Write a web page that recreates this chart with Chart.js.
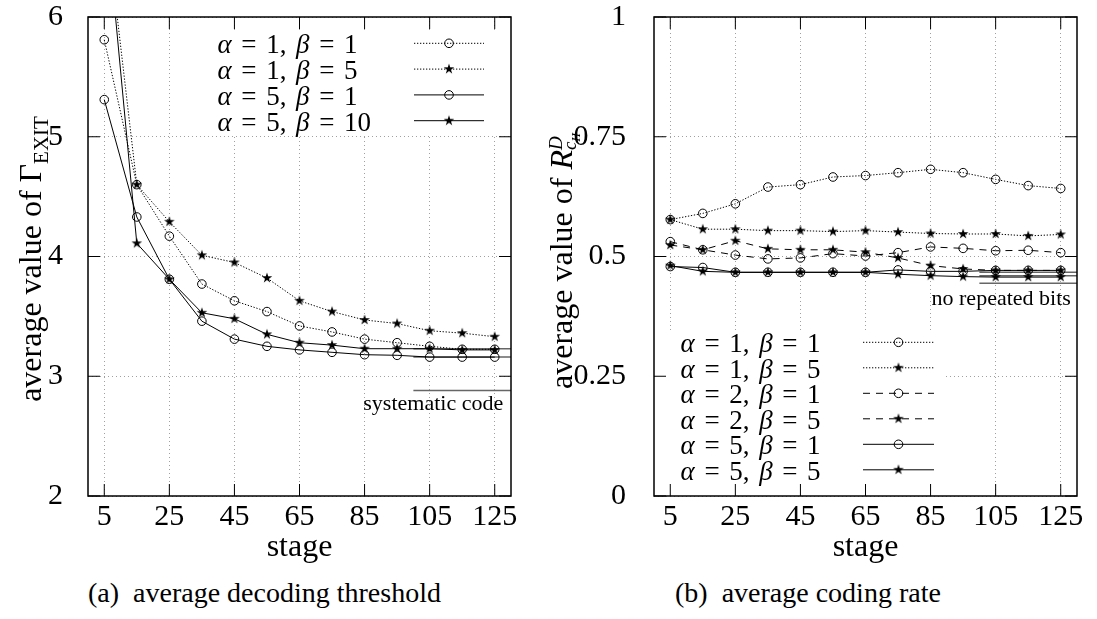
<!DOCTYPE html>
<html>
<head>
<meta charset="utf-8">
<script src="https://cdn.jsdelivr.net/npm/chart.js@4.4.1/dist/chart.umd.min.js"></script>
<style>
    body { margin: 0; background: #fff; }
    #wrap { position: relative; width: 1097px; height: 619px; overflow: hidden; font-family: "Liberation Serif", serif; }
    .pane { position: absolute; top: 0; }
    .caption { position: absolute; font-size: 28px; line-height: 28px; color: #000; white-space: pre; }
</style>
</head>
<body>
<div id="wrap">
    <div class="pane" style="left:0"><canvas id="thresholdChart" width="548" height="570"></canvas></div>
    <div class="pane" style="left:548px"><canvas id="rateChart" width="549" height="570"></canvas></div>
    <div class="caption" style="left:88px;top:579px">(a)  average decoding threshold</div>
    <div class="caption" style="left:675px;top:579px">(b)  average coding rate</div>
</div>
<script>
// stages on the x axis
const stages = [5, 15, 25, 35, 45, 55, 65, 75, 85, 95, 105, 115, 125];
const stageTicks = [5, 25, 45, 65, 85, 105, 125];

// (a) average decoding threshold, Gamma_EXIT
const gammaTicks = [2, 3, 4, 5, 6];
const gamma_a1b1 = [5.81, 4.60, 4.17, 3.77, 3.63, 3.54, 3.42, 3.37, 3.31, 3.28, 3.25, 3.225, 3.225];
const gamma_a1b5 = [6.93, 4.60, 4.29, 4.01, 3.95, 3.82, 3.63, 3.54, 3.47, 3.44, 3.38, 3.36, 3.33];
const gamma_a5b1 = [5.31, 4.33, 3.81, 3.46, 3.31, 3.25, 3.22, 3.20, 3.18, 3.175, 3.16, 3.16, 3.16];
const gamma_a5b10 = [7.0, 4.11, 3.81, 3.53, 3.48, 3.35, 3.28, 3.26, 3.23, 3.23, 3.23, 3.22, 3.22];
const gammaSystematic = 2.88;
const gammaLimits = [3.23, 3.16];

// (b) average coding rate, R^D_cII
const rateTicks = [0, 0.25, 0.5, 0.75, 1];
const rateTickLabels = ['0', '0.25', '0.5', '0.75', '1'];
const rate_a1b1 = [0.577, 0.590, 0.610, 0.645, 0.650, 0.666, 0.669, 0.675, 0.682, 0.675, 0.661, 0.648, 0.642];
const rate_a1b5 = [0.577, 0.557, 0.557, 0.554, 0.554, 0.552, 0.554, 0.551, 0.548, 0.547, 0.547, 0.543, 0.546];
const rate_a2b1 = [0.531, 0.514, 0.503, 0.495, 0.497, 0.506, 0.501, 0.508, 0.520, 0.517, 0.512, 0.513, 0.508];
const rate_a2b5 = [0.524, 0.514, 0.533, 0.516, 0.514, 0.514, 0.509, 0.497, 0.481, 0.474, 0.471, 0.471, 0.471];
const rate_a5b1 = [0.479, 0.477, 0.467, 0.467, 0.467, 0.467, 0.467, 0.472, 0.469, 0.469, 0.471, 0.471, 0.471];
const rate_a5b5 = [0.481, 0.469, 0.467, 0.467, 0.467, 0.467, 0.467, 0.463, 0.460, 0.458, 0.457, 0.457, 0.457];
const rateNoRepeat = 0.444;
const rateLimits = [0.467, 0.460];

// reference lines run from this stage to the right edge
const refFrom = 100;
const refTo = 130;

const FONT = '"Liberation Serif", serif';
const DOTTED = [1.3, 1.7];
const DASHED = [7, 6];

// small 5 point star used as marker
function makeStar(r) {
    const c = document.createElement('canvas');
    const s = Math.ceil(r * 2 + 3);
    c.width = s; c.height = s;
    const g = c.getContext('2d');
    g.translate(s / 2, s / 2);
    g.beginPath();
    for (let i = 0; i < 10; i++) {
        const rr = i % 2 ? r * 0.38 : r;
        const a = -Math.PI / 2 + i * Math.PI / 5;
        g.lineTo(rr * Math.cos(a), rr * Math.sin(a));
    }
    g.closePath();
    g.fillStyle = '#000';
    g.fill();
    return c;
}
const starImg = makeStar(5.5);

function series(label, values, dash, marker) {
    return {
        label: label,
        data: values.map((v, i) => ({ x: stages[i], y: v })),
        borderColor: '#000',
        borderWidth: 1,
        borderDash: dash,
        pointStyle: marker === 'star' ? starImg : 'circle',
        pointRadius: 4.3,
        pointBorderWidth: 1,
        pointBorderColor: '#000',
        pointBackgroundColor: 'rgba(0,0,0,0)',
        tension: 0,
        fill: false
    };
}

function refLine(value) {
    return {
        label: 'ref',
        isRef: true,
        data: [{ x: refFrom, y: value }, { x: refTo, y: value }],
        borderColor: '#666',
        borderWidth: 1.5,
        pointRadius: 0,
        fill: false
    };
}

// legend text: greek letters in italic, spaces stretched to a target width
function drawMathLabel(ctx, text, x, y, size, extra) {
    let cx = x;
    for (const ch of text) {
        const greek = /[\u03b1-\u03c9]/.test(ch);
        ctx.font = (greek ? 'italic ' : '') + size + 'px ' + FONT;
        ctx.fillText(ch, cx, y);
        cx += ctx.measureText(ch).width + (ch === ' ' ? extra : 0);
    }
}

function naturalWidth(ctx, text, size) {
    let w = 0;
    for (const ch of text) {
        const greek = /[\u03b1-\u03c9]/.test(ch);
        ctx.font = (greek ? 'italic ' : '') + size + 'px ' + FONT;
        w += ctx.measureText(ch).width;
    }
    return w;
}

function drawMarker(ctx, style, x, y) {
    if (style === 'circle') {
        ctx.beginPath();
        ctx.setLineDash([]);
        ctx.lineWidth = 1;
        ctx.arc(x, y, 4.3, 0, Math.PI * 2);
        ctx.stroke();
    } else {
        ctx.drawImage(style, x - style.width / 2, y - style.height / 2);
    }
}

// rotated axis title made of pieces {t, font, dy}
function drawRotated(ctx, pieces, bx, cy) {
    let total = 0;
    pieces.forEach(p => {
        ctx.font = p.font;
        p.w = p.adv !== undefined ? p.adv : ctx.measureText(p.t).width;
        total += p.w;
    });
    ctx.save();
    ctx.translate(bx, cy);
    ctx.rotate(-Math.PI / 2);
    ctx.textAlign = 'left';
    ctx.textBaseline = 'alphabetic';
    ctx.fillStyle = '#000';
    let x = -total / 2;
    pieces.forEach(p => {
        ctx.font = p.font;
        ctx.fillText(p.t, x + (p.dx || 0), p.dy || 0);
        x += p.w;
    });
    ctx.restore();
}

const gnuplotLook = {
    id: 'gnuplotLook',
    beforeDatasetsDraw(chart, args, opts) {
        const ctx = chart.ctx;
        if (opts.box) {
            ctx.save();
            ctx.fillStyle = '#fff';
            ctx.fillRect(opts.box[0], opts.box[1], opts.box[2], opts.box[3]);
            ctx.restore();
        }
    },
    afterDatasetsDraw(chart, args, opts) {
        const ctx = chart.ctx;
        const a = chart.chartArea;
        const xs = chart.scales.x;
        const ys = chart.scales.y;
        ctx.save();

        // legend
        const lg = opts.legend;
        const items = chart.data.datasets.filter(d => !d.isRef);
        ctx.fillStyle = '#000';
        ctx.textBaseline = 'alphabetic';
        ctx.textAlign = 'left';
        const natural = naturalWidth(ctx, items[0].label, lg.size);
        const spaces = items[0].label.split(' ').length - 1;
        const extra = (lg.width - natural) / spaces;
        items.forEach((ds, i) => {
            const yy = lg.rowY + i * lg.rowStep;
            drawMathLabel(ctx, ds.label, lg.textX, yy + lg.shift, lg.size, extra);
            ctx.strokeStyle = '#000';
            ctx.lineWidth = 1;
            ctx.setLineDash(ds.borderDash || []);
            ctx.beginPath();
            ctx.moveTo(lg.x1, yy);
            ctx.lineTo(lg.x2, yy);
            ctx.stroke();
            drawMarker(ctx, ds.pointStyle, (lg.x1 + lg.x2) / 2, yy);
        });
        ctx.setLineDash([]);

        // note under the reference line
        ctx.font = '22px ' + FONT;
        ctx.textAlign = 'right';
        ctx.fillText(opts.note.text, xs.getPixelForValue(opts.note.x), ys.getPixelForValue(opts.note.y));

        // frame and inward ticks on all four sides
        ctx.strokeStyle = '#000';
        ctx.lineWidth = 1.5;
        ctx.strokeRect(a.left, a.top, a.right - a.left, a.bottom - a.top);
        ctx.lineWidth = 1;
        const L = 12;
        ctx.beginPath();
        xs.ticks.forEach(t => {
            const px = xs.getPixelForValue(t.value);
            ctx.moveTo(px, a.bottom); ctx.lineTo(px, a.bottom - L);
            ctx.moveTo(px, a.top); ctx.lineTo(px, a.top + L);
        });
        ys.ticks.forEach(t => {
            const py = ys.getPixelForValue(t.value);
            ctx.moveTo(a.left, py); ctx.lineTo(a.left + L, py);
            ctx.moveTo(a.right, py); ctx.lineTo(a.right - L, py);
        });
        ctx.stroke();

        // x title
        ctx.font = '32px ' + FONT;
        ctx.textAlign = 'center';
        ctx.fillText('stage', (a.left + a.right) / 2, 556);
        ctx.restore();

        drawRotated(ctx, opts.yTitle, opts.yTitleX, opts.yTitleY);
    }
};

function baseOptions(cfg) {
    return {
        responsive: false,
        animation: false,
        layout: { padding: { left: 0, right: cfg.padRight, top: 17, bottom: 0 } },
        plugins: {
            legend: { display: false },
            tooltip: { enabled: false },
            gnuplotLook: cfg.look
        },
        scales: {
            x: {
                type: 'linear',
                min: 0,
                max: 130,
                afterBuildTicks: s => { s.ticks = stageTicks.map(v => ({ value: v })); },
                afterFit: s => { s.height = 74; s.paddingLeft = 0; s.paddingRight = 0; },
                grid: { color: '#a0a0a0', lineWidth: 1, drawTicks: false },
                border: { display: false, dash: [1, 3] },
                ticks: {
                    font: { family: FONT, size: 30, lineHeight: 1 },
                    color: '#000', padding: 6, maxRotation: 0, autoSkip: false,
                    callback: v => String(v)
                }
            },
            y: {
                type: 'linear',
                min: cfg.yMin,
                max: cfg.yMax,
                afterBuildTicks: s => { s.ticks = cfg.yTicks.map(v => ({ value: v })); },
                afterFit: s => { s.width = cfg.yWidth; s.paddingTop = 0; s.paddingBottom = 0; },
                grid: { color: '#a0a0a0', lineWidth: 1, drawTicks: false },
                border: { display: false, dash: [1, 3] },
                ticks: {
                    font: { family: FONT, size: 30, lineHeight: 1 },
                    color: '#000', padding: cfg.yPad, autoSkip: false,
                    callback: cfg.yLabel
                }
            }
        }
    };
}

document.addEventListener('DOMContentLoaded', function () {
    Chart.register(gnuplotLook);

    new Chart(document.getElementById('thresholdChart'), {
        type: 'line',
        data: {
            datasets: [
                series('\u03b1 = 1, \u03b2 = 1', gamma_a1b1, DOTTED, 'circle'),
                series('\u03b1 = 1, \u03b2 = 5', gamma_a1b5, DOTTED, 'star'),
                series('\u03b1 = 5, \u03b2 = 1', gamma_a5b1, [], 'circle'),
                series('\u03b1 = 5, \u03b2 = 10', gamma_a5b10, [], 'star'),
                refLine(gammaSystematic),
                refLine(gammaLimits[0]),
                refLine(gammaLimits[1])
            ]
        },
        options: baseOptions({
            padRight: 37, yMin: 2, yMax: 6, yTicks: gammaTicks, yWidth: 88, yPad: 25,
            yLabel: v => String(v),
            look: {
                box: [205, 30, 290, 104],
                legend: { textX: 217.5, rowY: 43.3, rowStep: 25.8, shift: 10, size: 27, width: 140, x1: 414, x2: 484 },
                note: { text: 'systematic code', x: 127.6, y: 2.72 },
                yTitleX: 41,
                yTitleY: 259,
                yTitle: [
                    { t: 'average value of ', font: '32px ' + FONT },
                    { t: '\u0393', font: '32px ' + FONT },
                    { t: 'EXIT', font: '21px ' + FONT, dy: 7 }
                ]
            }
        })
    });

    new Chart(document.getElementById('rateChart'), {
        type: 'line',
        data: {
            datasets: [
                series('\u03b1 = 1, \u03b2 = 1', rate_a1b1, DOTTED, 'circle'),
                series('\u03b1 = 1, \u03b2 = 5', rate_a1b5, DOTTED, 'star'),
                series('\u03b1 = 2, \u03b2 = 1', rate_a2b1, DASHED, 'circle'),
                series('\u03b1 = 2, \u03b2 = 5', rate_a2b5, DASHED, 'star'),
                series('\u03b1 = 5, \u03b2 = 1', rate_a5b1, [], 'circle'),
                series('\u03b1 = 5, \u03b2 = 5', rate_a5b5, [], 'star'),
                refLine(rateNoRepeat),
                refLine(rateLimits[0]),
                refLine(rateLimits[1])
            ]
        },
        options: baseOptions({
            padRight: 20, yMin: 0, yMax: 1, yTicks: rateTicks, yWidth: 106, yPad: 28,
            yLabel: (v, i) => rateTickLabels[i],
            look: {
                box: [107, 330, 290, 165],
                legend: { textX: 132.6, rowY: 342.3, rowStep: 25.5, shift: 10, size: 27, width: 140, x1: 315, x2: 386 },
                note: { text: 'no repeated bits', x: 128.1, y: 0.399 },
                yTitleX: 24,
                yTitleY: 261,
                yTitle: [
                    { t: 'average value of ', font: '32px ' + FONT },
                    { t: 'R', font: 'italic 32px ' + FONT },
                    { t: 'D', font: 'italic 19px ' + FONT, dy: -10, adv: 0 },
                    { t: 'c', font: 'italic 19px ' + FONT, dy: 4 },
                    { t: 'II', font: 'italic 13px ' + FONT, dy: 8 }
                ]
            }
        })
    });
});
</script>
</body>
</html>
